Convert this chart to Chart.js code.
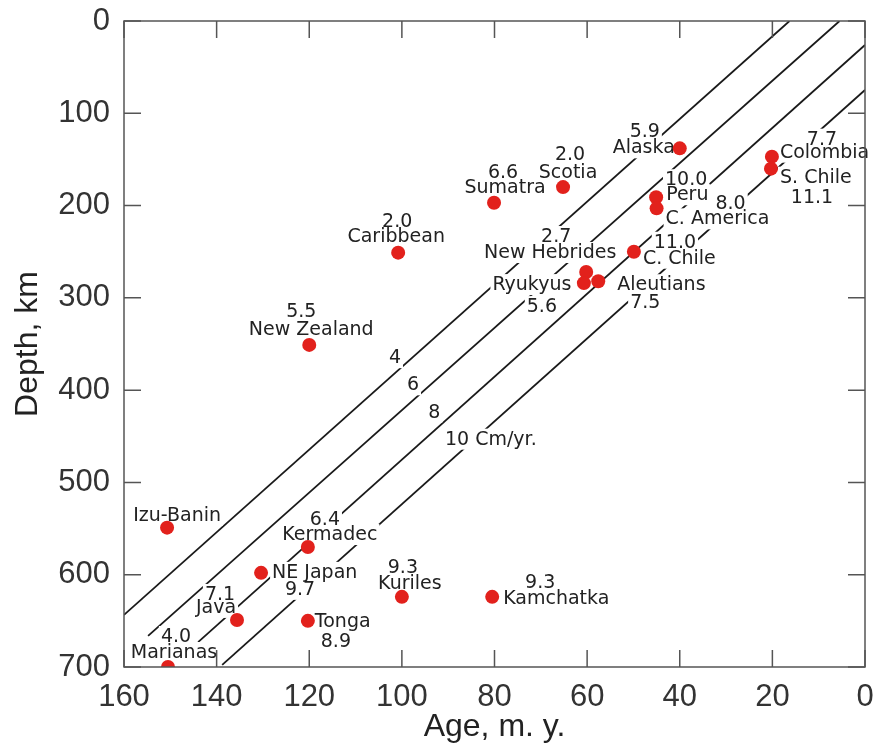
<!DOCTYPE html>
<html>
<head>
<meta charset="utf-8">
<script src="https://cdn.jsdelivr.net/npm/chart.js@4.4.1/dist/chart.umd.min.js"></script>
<style>
  html, body { margin: 0; padding: 0; background: #fff; }
  #wrap { width: 873px; height: 746px; }
</style>
</head>
<body>
<div id="wrap"><canvas id="slabChart"></canvas></div>
<script>
// subduction zones: plate age (m.y.) vs max slab depth (km), rate in cm/yr
const trenches = ['Izu-Banin', 'Marianas', 'Java', 'NE Japan', 'Kermadec', 'Tonga', 'Kuriles',
  'Kamchatka', 'Caribbean', 'Sumatra', 'Scotia', 'New Hebrides', 'Ryukyus', 'Aleutians',
  'New Zealand', 'Alaska', 'Peru', 'C. America', 'C. Chile', 'Colombia', 'S. Chile'];
const ages = [150.7, 150.5, 135.6, 130.4, 120.3, 120.3, 100, 80.5, 100.8, 80.1, 65.2, 60.2, 60.7,
  57.6, 120, 40, 45.1, 45, 49.9, 20.1, 20.3];
const depths = [549, 700, 649, 598, 570, 650, 624, 624, 251, 197, 180, 272, 284, 282, 351, 138,
  191, 203, 250, 147, 160];
const rates = [null, '4.0', '7.1', '9.7', '6.4', '8.9', '9.3', '9.3', '2.0', '6.6', '2.0', '2.7',
  '5.6', '7.5', '5.5', '5.9', '10.0', '8.0', '11.0', '7.7', '11.1'];

// convergence-rate isolines, two end points each
const rateLines = ['4', '6', '8', '10 Cm/yr.'];
const lineAges = [[160, 16.3], [154.8, 5.5], [144, 0], [138.8, 0]];
const lineDepths = [[643.6, 0], [666.3, 0], [673, 26], [697.7, 74.8]];

const xTicks = [160, 140, 120, 100, 80, 60, 40, 20, 0];
const yTicks = [0, 100, 200, 300, 400, 500, 600, 700];

// label placement in px from the dot: [dx, dy(baseline), align]
const nameOffsets = [
  [10, -7, 'center'], [6, -9, 'center'], [-21, -7, 'center'], [11, 5, 'left'],
  [22, -7, 'center'], [7, 6, 'left'], [8, -8, 'center'], [11, 7, 'left'],
  [-2, -11, 'center'], [11, -10, 'center'], [5, -9, 'center'], [-36, -14, 'center'],
  [-52, 7, 'center'], [19, 9, 'left'], [2, -10, 'center'], [-36, 5, 'center'],
  [10, 3, 'left'], [9, 16, 'left'], [9, 12, 'left'], [8, 1, 'left'], [9, 14, 'left']
];
const rateOffsets = [
  null, [8, -25], [-17, -20], [39, 22], [17, -22], [28, 26], [1, -24], [48, -9],
  [-1, -26], [9, -25], [7, -27], [-30, -30], [-42, 29], [47, 27], [-8, -28], [-35, -11],
  [30, -12], [74, 1], [41, -4], [50, -12], [41, 34]
];
// isoline labels: age on the line, then px offset
const lineLabelAge = [101.5, 97.6, 93, 90.7];
const lineLabelOffsets = [[0, -10, 'center'], [0, -10, 'center'], [0, -13, 'center'], [0, -21, 'left']];

const labelFont = '19px "DejaVu Sans", sans-serif';

function depthOnLine(i, age) {
  const [a0, a1] = lineAges[i];
  const [d0, d1] = lineDepths[i];
  return d0 + (d1 - d0) * (age - a0) / (a1 - a0);
}

const labelPlugin = {
  id: 'labels',
  beforeDatasetDraw(chart, args) {
    if (args.index !== 0) return;
    const { ctx, scales: { x, y } } = chart;
    const items = [];
    rateLines.forEach((txt, i) => {
      const a = lineLabelAge[i];
      const [dx, dy, al] = lineLabelOffsets[i];
      items.push([txt, x.getPixelForValue(a) + dx, y.getPixelForValue(depthOnLine(i, a)) + dy, al]);
    });
    trenches.forEach((name, i) => {
      const px = x.getPixelForValue(ages[i]);
      const py = y.getPixelForValue(depths[i]);
      const [dx, dy, al] = nameOffsets[i];
      items.push([name, px + dx, py + dy, al]);
      if (rates[i]) {
        const [rx, ry] = rateOffsets[i];
        items.push([rates[i], px + rx, py + ry, 'center']);
      }
    });
    ctx.save();
    ctx.font = labelFont;
    ctx.textBaseline = 'alphabetic';
    // white boxes first, so the isolines look broken under the text
    ctx.fillStyle = '#fff';
    items.forEach(([t, tx, ty, al]) => {
      const w = ctx.measureText(t).width;
      const left = al === 'left' ? tx : tx - w / 2;
      ctx.fillRect(left - 2, ty - 16, w + 4, 21);
    });
    ctx.fillStyle = '#222';
    items.forEach(([t, tx, ty, al]) => {
      ctx.textAlign = al;
      ctx.fillText(t, tx, ty);
    });
    ctx.restore();
  }
};

const framePlugin = {
  id: 'frame',
  afterDatasetsDraw(chart) {
    const { ctx, chartArea: a, scales: { x, y } } = chart;
    const tl = 17;
    ctx.save();
    ctx.strokeStyle = '#555';
    ctx.lineWidth = 1.5;
    ctx.strokeRect(a.left, a.top, a.right - a.left, a.bottom - a.top);
    ctx.beginPath();
    x.ticks.forEach(t => {
      const px = x.getPixelForValue(t.value);
      ctx.moveTo(px, a.bottom); ctx.lineTo(px, a.bottom - tl);
      ctx.moveTo(px, a.top); ctx.lineTo(px, a.top + tl);
    });
    y.ticks.forEach(t => {
      const py = y.getPixelForValue(t.value);
      ctx.moveTo(a.left, py); ctx.lineTo(a.left + tl, py);
      ctx.moveTo(a.right, py); ctx.lineTo(a.right - tl, py);
    });
    ctx.stroke();
    ctx.restore();
  }
};

const lineSets = rateLines.map((lab, i) => ({
  type: 'line',
  label: lab,
  data: lineAges[i].map((a, j) => ({ x: a, y: lineDepths[i][j] })),
  borderColor: '#1a1a1a',
  borderWidth: 1.8,
  pointRadius: 0,
  fill: false,
  order: 1
}));

const tickFont = { family: '"Liberation Sans", Arial, sans-serif', size: 31 };
const titleFont = { family: '"Liberation Sans", Arial, sans-serif', size: 32 };

new Chart(document.getElementById('slabChart'), {
  type: 'scatter',
  data: {
    datasets: [
      {
        label: 'Trenches',
        data: ages.map((a, i) => ({ x: a, y: depths[i] })),
        backgroundColor: '#e2211c',
        borderWidth: 0,
        pointRadius: 7,
        order: 0
      },
      ...lineSets
    ]
  },
  options: {
    responsive: true,
    maintainAspectRatio: false,
    animation: false,
    layout: { padding: { top: 21, right: 8, left: 0, bottom: 0 } },
    plugins: { legend: { display: false }, tooltip: { enabled: false } },
    scales: {
      x: {
        type: 'linear',
        min: 0,
        max: 160,
        reverse: true,
        afterBuildTicks: s => { s.ticks = xTicks.map(v => ({ value: v })); },
        afterFit: s => { s.height = 79; s.paddingLeft = 0; s.paddingRight = 0; },
        grid: { display: false, drawTicks: false },
        border: { display: false },
        ticks: { font: tickFont, color: '#333', padding: 12, maxRotation: 0, autoSkip: false },
        title: { display: true, text: 'Age, m. y.', font: titleFont, color: '#222', padding: { top: 0, bottom: 0 } }
      },
      y: {
        type: 'linear',
        min: 0,
        max: 700,
        reverse: true,
        afterBuildTicks: s => { s.ticks = yTicks.map(v => ({ value: v })); },
        afterFit: s => { s.width = 124; s.paddingTop = 0; s.paddingBottom = 0; },
        grid: { display: false, drawTicks: false },
        border: { display: false },
        ticks: { font: tickFont, color: '#333', padding: 14, autoSkip: false },
        title: { display: true, text: 'Depth, km', font: titleFont, color: '#222', padding: { top: 9, bottom: 0 } }
      }
    }
  },
  plugins: [labelPlugin, framePlugin]
});
</script>
</body>
</html>
